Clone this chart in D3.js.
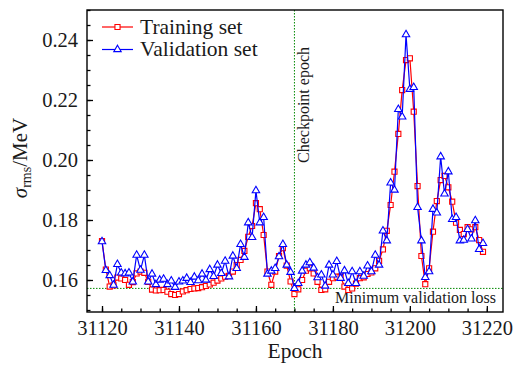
<!DOCTYPE html>
<html>
<head>
<meta charset="utf-8">
<script src="https://cdn.jsdelivr.net/npm/d3@7"></script>
<style>
  html, body { margin: 0; padding: 0; background: #fff; }
  svg text { font-family: "Liberation Serif", "DejaVu Serif", serif; }
</style>
</head>
<body>
<svg id="chart" width="513" height="365"></svg>
<script>
// Epochs shown on the x axis
const epochs = d3.range(31120, 31220);

// RMS deviation per epoch, training set
const trainValues = [
  0.1730, 0.1635, 0.1578, 0.1582, 0.1608, 0.1605, 0.1600, 0.1584, 0.1593, 0.1622,
  0.1628, 0.1624, 0.1594, 0.1568, 0.1565, 0.1566, 0.1567, 0.1561, 0.1553, 0.1550,
  0.1553, 0.1562, 0.1566, 0.1570, 0.1572, 0.1573, 0.1576, 0.1580, 0.1585, 0.1591,
  0.1598, 0.1605, 0.1611, 0.1614, 0.1628, 0.1650, 0.1667, 0.1697, 0.1744, 0.1780,
  0.1856, 0.1836, 0.1750, 0.1628, 0.1584, 0.1628, 0.1680, 0.1706, 0.1648, 0.1595,
  0.1553, 0.1569, 0.1600, 0.1631, 0.1639, 0.1622, 0.1594, 0.1567, 0.1569, 0.1594,
  0.1606, 0.1611, 0.1611, 0.1578, 0.1567, 0.1572, 0.1588, 0.1606, 0.1609, 0.1620,
  0.1625, 0.1639, 0.1664, 0.1702, 0.1764, 0.1850, 0.1961, 0.2087, 0.2233, 0.2333,
  0.2339, 0.2161, 0.1913, 0.1680, 0.1586, 0.1639, 0.1761, 0.1863, 0.1933, 0.1947,
  0.1909, 0.1861, 0.1791, 0.1767, 0.1753, 0.1776, 0.1769, 0.1776, 0.1733, 0.1694
];

// RMS deviation per epoch, validation set
const validValues = [
  0.1728, 0.1632, 0.1615, 0.1583, 0.1652, 0.1624, 0.1621, 0.1624, 0.1594, 0.1683,
  0.1633, 0.1683, 0.1594, 0.1620, 0.1585, 0.1600, 0.1603, 0.1585, 0.1597, 0.1576,
  0.1594, 0.1597, 0.1606, 0.1592, 0.1610, 0.1598, 0.1620, 0.1600, 0.1635, 0.1612,
  0.1650, 0.1622, 0.1663, 0.1611, 0.1680, 0.1639, 0.1719, 0.1676, 0.1791, 0.1742,
  0.1898, 0.1791, 0.1809, 0.1620, 0.1630, 0.1639, 0.1678, 0.1719, 0.1650, 0.1626,
  0.1572, 0.1589, 0.1630, 0.1650, 0.1658, 0.1640, 0.1608, 0.1617, 0.1580, 0.1650,
  0.1617, 0.1662, 0.1606, 0.1631, 0.1589, 0.1628, 0.1589, 0.1628, 0.1613, 0.1647,
  0.1628, 0.1683, 0.1650, 0.1764, 0.1731, 0.1924, 0.1900, 0.2169, 0.2144, 0.2418,
  0.2236, 0.2242, 0.1842, 0.1731, 0.1609, 0.1628, 0.1836, 0.1824, 0.2011, 0.1887,
  0.1961, 0.1802, 0.1809, 0.1731, 0.1733, 0.1769, 0.1737, 0.1798, 0.1702, 0.1722
];

const xTickValues = [31120, 31140, 31160, 31180, 31200, 31220];
const xMinorValues = d3.range(31120, 31225, 5);
const yTickValues = [0.16, 0.18, 0.20, 0.22, 0.24];
const yMinorValues = d3.range(0.150, 0.2501, 0.005);

const checkpointEpoch = 31170;
const minValidLoss = d3.min(validValues);

const seriesNames = ["Training set", "Validation set"];
const seriesColors = ["#ff0000", "#0000ff"];

// Plot area
const area = { left: 87, right: 503, top: 10, bottom: 312 };
const serifFont = "'Liberation Serif', 'DejaVu Serif', serif";
const ink = "#1a1a1a";
const svg = d3.select("#chart").attr("font-family", serifFont);

const x = d3.scaleLinear().domain([31116.1, 31224.2]).range([area.left, area.right]);
const y = d3.scaleLinear().domain([0.14933, 0.25]).range([area.bottom, area.top]);

const plot = svg.append("g");

// Reference lines: checkpoint epoch and minimum validation loss
const green = "#008800";
plot.append("line")
  .attr("x1", x(checkpointEpoch)).attr("x2", x(checkpointEpoch))
  .attr("y1", area.top).attr("y2", area.bottom)
  .attr("stroke", green).attr("stroke-width", 1).attr("stroke-dasharray", "1.5,1.5");
plot.append("line")
  .attr("x1", area.left).attr("x2", area.right)
  .attr("y1", y(minValidLoss)).attr("y2", y(minValidLoss))
  .attr("stroke", green).attr("stroke-width", 1).attr("stroke-dasharray", "1.5,1.5");

plot.append("text")
  .attr("transform", `translate(${x(checkpointEpoch) + 15},105) rotate(-90)`)
  .attr("text-anchor", "middle")
  .attr("font-family", serifFont)
  .attr("font-size", 16)
  .attr("fill", ink)
  .text("Checkpoint epoch");

plot.append("text")
  .attr("x", 496).attr("y", 303)
  .attr("text-anchor", "end")
  .attr("font-family", serifFont)
  .attr("font-size", 16)
  .attr("fill", ink)
  .text("Minimum validation loss");

// Series
const line = d3.line().x((d, i) => x(epochs[i])).y(d => y(d));
const square = d3.symbol().type(d3.symbolSquare).size(26);
const triangle = d3.symbol().type(d3.symbolTriangle).size(24);

function drawSeries(values, color, symbol) {
  const g = plot.append("g");
  g.append("path")
    .datum(values)
    .attr("d", line)
    .attr("fill", "none")
    .attr("stroke", color)
    .attr("stroke-width", 1.2);
  g.selectAll("path.mk")
    .data(values)
    .join("path")
    .attr("class", "mk")
    .attr("transform", (d, i) => `translate(${x(epochs[i])},${y(d)})`)
    .attr("d", symbol)
    .attr("fill", "#fff")
    .attr("stroke", color)
    .attr("stroke-width", 1.1);
}
drawSeries(trainValues, seriesColors[0], square);
drawSeries(validValues, seriesColors[1], triangle);

// Axes with inward ticks
const axisFont = 20.5;
const xAxis = svg.append("g")
  .attr("transform", `translate(0,${area.bottom})`)
  .call(d3.axisBottom(x).tickValues(xTickValues).tickSizeInner(-6).tickSizeOuter(0)
    .tickPadding(8).tickFormat(d3.format("d")));
const xMinor = svg.append("g")
  .attr("transform", `translate(0,${area.bottom})`)
  .call(d3.axisBottom(x).tickValues(xMinorValues).tickSizeInner(-3.5).tickSizeOuter(0).tickFormat(""));
const yAxis = svg.append("g")
  .attr("transform", `translate(${area.left},0)`)
  .call(d3.axisLeft(y).tickValues(yTickValues).tickSizeInner(-6).tickSizeOuter(0)
    .tickPadding(9).tickFormat(d3.format(".2f")));
const yMinor = svg.append("g")
  .attr("transform", `translate(${area.left},0)`)
  .call(d3.axisLeft(y).tickValues(yMinorValues).tickSizeInner(-3.5).tickSizeOuter(0).tickFormat(""));

[xAxis, xMinor, yAxis, yMinor].forEach(a => {
  a.attr("font-family", serifFont).attr("font-size", axisFont);
  a.select(".domain").remove();
  a.selectAll(".tick line").attr("stroke", "#000").attr("stroke-width", 1.3);
  a.selectAll(".tick text")
    .attr("font-family", serifFont)
    .attr("font-size", axisFont)
    .attr("fill", ink);
});

// Frame
svg.append("rect")
  .attr("x", area.left).attr("y", area.top)
  .attr("width", area.right - area.left).attr("height", area.bottom - area.top)
  .attr("fill", "none").attr("stroke", "#000").attr("stroke-width", 1.4);

// Axis titles
svg.append("text")
  .attr("x", (area.left + area.right) / 2).attr("y", 358)
  .attr("text-anchor", "middle")
  .attr("font-family", serifFont)
  .attr("font-size", 21.5)
  .attr("fill", ink)
  .text("Epoch");

const yTitle = svg.append("text")
  .attr("transform", "translate(27,158) rotate(-90)")
  .attr("text-anchor", "middle")
  .attr("font-family", serifFont)
  .attr("font-size", 21)
  .attr("fill", ink);
yTitle.append("tspan").attr("font-style", "italic").text("σ");
yTitle.append("tspan").attr("font-size", 14).attr("dy", 4).text("rms");
yTitle.append("tspan").attr("dy", -4).text("/MeV");

// Legend
const legendSymbols = [square, triangle];
seriesNames.forEach((name, i) => {
  const ly = 27 + i * 22.5;
  const lg = svg.append("g");
  lg.append("line")
    .attr("x1", 102).attr("x2", 133).attr("y1", ly).attr("y2", ly)
    .attr("stroke", seriesColors[i]).attr("stroke-width", 1.2);
  lg.append("path")
    .attr("transform", `translate(117.5,${ly})`)
    .attr("d", legendSymbols[i])
    .attr("fill", "#fff").attr("stroke", seriesColors[i]).attr("stroke-width", 1.1);
  lg.append("text")
    .attr("x", 140).attr("y", ly + 6.5)
    .attr("font-family", serifFont)
    .attr("font-size", 21.5)
    .attr("fill", ink)
    .text(name);
});
</script>
</body>
</html>
